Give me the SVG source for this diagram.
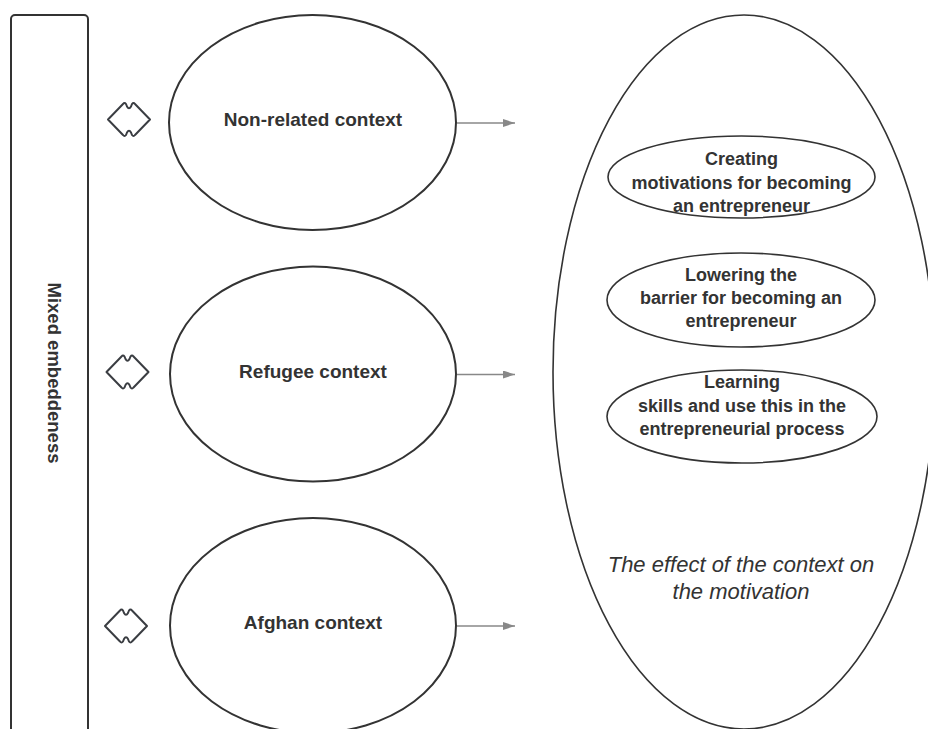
<svg xmlns="http://www.w3.org/2000/svg" width="928" height="729" viewBox="0 0 928 729">
<style>
.shape{fill:#fff;stroke:#333;stroke-width:2}
.thin{fill:none;stroke:#333;stroke-width:1.6}
.icon{fill:#fff;stroke:#3a3d42;stroke-width:2;stroke-linejoin:round}
.lbl{font-family:"Liberation Sans",Arial,sans-serif;font-weight:bold;fill:#333;text-anchor:middle}
.big{font-size:19px}
.small{font-size:18px}
.ital{font-family:"Liberation Sans",Arial,sans-serif;font-style:italic;font-size:22px;fill:#333;text-anchor:middle}
.conn{stroke:#888;stroke-width:1.5;fill:none}
</style>
<defs>
<marker id="ah" markerUnits="userSpaceOnUse" markerWidth="13" markerHeight="9" refX="12" refY="4" orient="auto">
<path d="M0,0 L12,4 L0,8 Z" fill="#888"/>
</marker>
<path id="dbl" d="M -21 0 L -6 -15.5 Q -4.5 -17.5 -3 -15.5 L -2 -13 Q 0 -9.5 2 -13 L 3 -15.5 Q 4.5 -17.5 6 -15.5 L 21 0 L 6 15.5 Q 4.5 17.5 3 15.5 L 2 13 Q 0 9.5 -2 13 L -3 15.5 Q -4.5 17.5 -6 15.5 Z"/>
</defs>
<rect width="928" height="729" fill="#fff"/>

<g id="mixed-embeddeness">
<rect class="shape" x="11" y="15" width="77" height="740" rx="4" ry="4" stroke="#3a3d42"/>
<text class="lbl" style="font-size:18.5px" transform="translate(47.5,373) rotate(90)" x="0" y="0">Mixed embeddeness</text>
</g>

<g id="icon-1"><use href="#dbl" class="icon" transform="translate(129,119.5)"/></g>
<g id="icon-2"><use href="#dbl" class="icon" transform="translate(127.5,372)"/></g>
<g id="icon-3"><use href="#dbl" class="icon" transform="translate(126,626)"/></g>

<g id="non-related-context">
<ellipse class="shape" cx="312.5" cy="122.5" rx="143.5" ry="107.5"/>
<text class="lbl big" x="313" y="126">Non-related context</text>
</g>
<g id="refugee-context">
<ellipse class="shape" cx="313" cy="374" rx="143" ry="107.5"/>
<text class="lbl big" x="313" y="377.5">Refugee context</text>
</g>
<g id="afghan-context">
<ellipse class="shape" cx="313" cy="625.5" rx="143" ry="107.5"/>
<text class="lbl big" x="313" y="629">Afghan context</text>
</g>

<g id="connectors">
<line class="conn" x1="457" y1="123" x2="515" y2="123" marker-end="url(#ah)"/>
<line class="conn" x1="457" y1="374.5" x2="515" y2="374.5" marker-end="url(#ah)"/>
<line class="conn" x1="457" y1="626" x2="515" y2="626" marker-end="url(#ah)"/>
</g>

<g id="effect-of-context">
<ellipse class="thin" cx="744" cy="372" rx="191" ry="357"/>
<text class="ital" x="741" y="572">The effect of the context on</text>
<text class="ital" x="741" y="598.5">the motivation</text>
</g>

<g id="creating-motivations">
<ellipse class="thin" cx="741.5" cy="177" rx="133.5" ry="41"/>
<text class="lbl small" x="741.5" y="165">Creating</text>
<text class="lbl small" x="741.5" y="189">motivations for becoming</text>
<text class="lbl small" x="741.5" y="212">an entrepreneur</text>
</g>
<g id="lowering-barrier">
<ellipse class="thin" cx="741" cy="300" rx="134" ry="47"/>
<text class="lbl small" x="741" y="281">Lowering the</text>
<text class="lbl small" x="741" y="304">barrier for becoming an</text>
<text class="lbl small" x="741" y="326.5">entrepreneur</text>
</g>
<g id="learning-skills">
<ellipse class="thin" cx="742" cy="416.5" rx="135" ry="46.5"/>
<text class="lbl small" x="742" y="388">Learning</text>
<text class="lbl small" x="742" y="411.5">skills and use this in the</text>
<text class="lbl small" x="742" y="434.5">entrepreneurial process</text>
</g>
</svg>
